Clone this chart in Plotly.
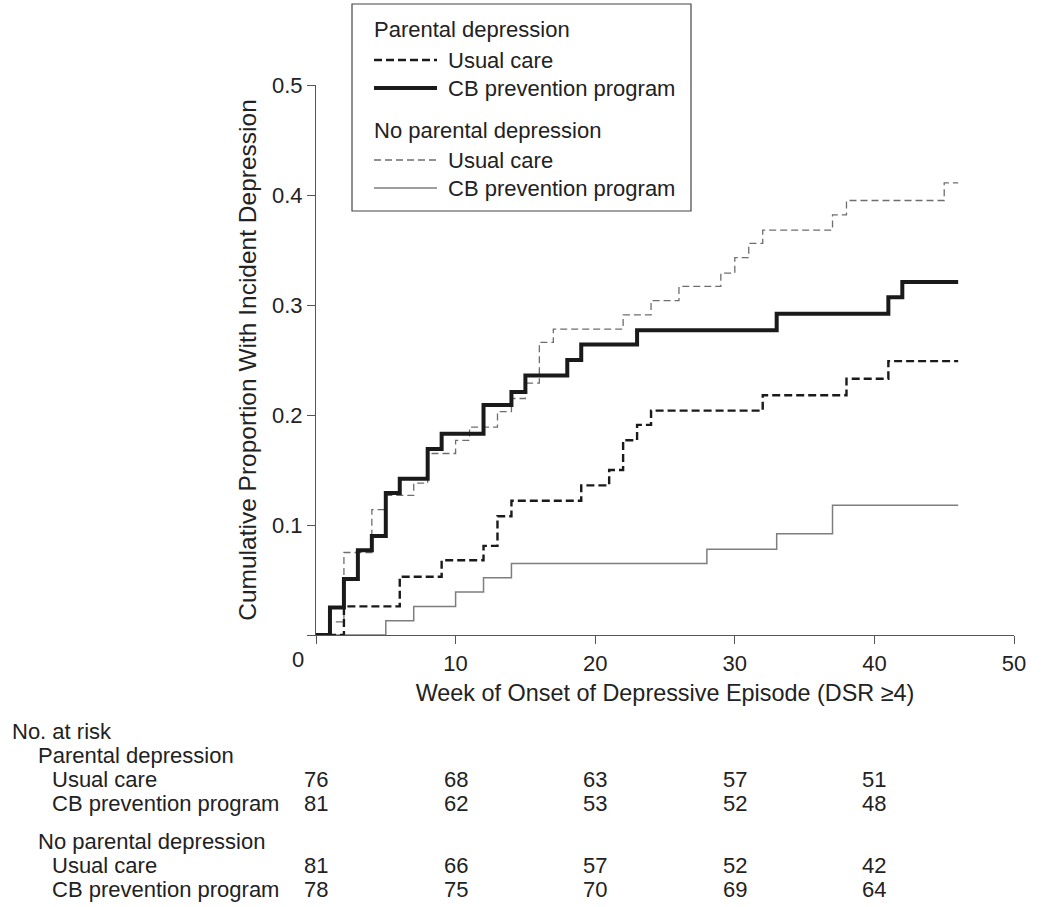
import plotly.graph_objects as go

# Kaplan-Meier style step curves: week of each step and cumulative proportion after it
pd_usual_weeks = [0, 2, 6, 9, 12, 13, 14, 19, 21, 22, 23, 24, 32, 38, 41, 46]
pd_usual_prop = [0, 0.026, 0.053, 0.068, 0.081, 0.108, 0.122, 0.136, 0.150, 0.177,
                 0.191, 0.204, 0.218, 0.233, 0.249, 0.249]

pd_cb_weeks = [0, 1, 2, 3, 4, 5, 6, 8, 9, 12, 14, 15, 18, 19, 23, 33, 41, 42, 46]
pd_cb_prop = [0, 0.025, 0.051, 0.077, 0.090, 0.129, 0.142, 0.169, 0.183, 0.209,
              0.221, 0.236, 0.250, 0.264, 0.277, 0.292, 0.307, 0.321, 0.321]

npd_usual_weeks = [0, 1, 2, 4, 5, 7, 8, 10, 11, 13, 14, 15, 16, 17, 22, 24, 26,
                   29, 30, 31, 32, 37, 38, 45, 46]
npd_usual_prop = [0, 0.012, 0.075, 0.114, 0.127, 0.138, 0.165, 0.177, 0.189, 0.203,
                  0.215, 0.229, 0.266, 0.278, 0.291, 0.304, 0.317, 0.329, 0.343,
                  0.356, 0.368, 0.382, 0.395, 0.411, 0.411]

npd_cb_weeks = [0, 5, 7, 10, 12, 14, 28, 33, 37, 46]
npd_cb_prop = [0, 0.013, 0.026, 0.039, 0.052, 0.065, 0.078, 0.092, 0.118, 0.118]

# number at risk table
risk_weeks = [0, 10, 20, 30, 40]
risk_pd_usual = [76, 68, 63, 57, 51]
risk_pd_cb = [81, 62, 53, 52, 48]
risk_npd_usual = [81, 66, 57, 52, 42]
risk_npd_cb = [78, 75, 70, 69, 64]

x_ticks = [0, 10, 20, 30, 40, 50]
y_ticks = [0, 0.1, 0.2, 0.3, 0.4, 0.5]

FONT = "Liberation Sans, Arial, sans-serif"
TXT = "#222222"
DARK = "#1a1a1a"

styles = {
    "pd_usual": dict(color=DARK, width=2.4, dash="8px,4px"),
    "pd_cb": dict(color=DARK, width=4),
    "npd_usual": dict(color="#6e6e6e", width=1.3, dash="7px,4px"),
    "npd_cb": dict(color="#7e7e7e", width=1.5),
}

# plot area in pixels (used to place the legend box and table labels in paper coords)
L, R, T, B = 316, 1014, 85, 635


def px(x):
    return (x - L) / (R - L)


def py(y):
    return (B - y) / (B - T)


fig = go.Figure()

series = [
    (npd_cb_weeks, npd_cb_prop, "npd_cb"),
    (npd_usual_weeks, npd_usual_prop, "npd_usual"),
    (pd_usual_weeks, pd_usual_prop, "pd_usual"),
    (pd_cb_weeks, pd_cb_prop, "pd_cb"),
]
for wk, prop, key in series:
    fig.add_trace(go.Scatter(x=wk, y=prop, mode="lines", line_shape="hv",
                             line=styles[key], showlegend=False, hoverinfo="x+y"))

# legend drawn by hand so the key lines match the long samples of the original
shapes = [dict(type="rect", xref="paper", yref="paper",
               x0=px(352), x1=px(691), y0=py(211), y1=py(4),
               line=dict(color="#444444", width=1.2), fillcolor="white", layer="above")]
annotations = []
legend_rows = [
    (30, "Parental depression", None),
    (60, "Usual care", "pd_usual"),
    (88, "CB prevention program", "pd_cb"),
    (130, "No parental depression", None),
    (160, "Usual care", "npd_usual"),
    (188, "CB prevention program", "npd_cb"),
]
for y, label, key in legend_rows:
    if key is None:
        annotations.append(dict(xref="paper", yref="paper", x=px(372), y=py(y),
                                text=label, showarrow=False, xanchor="left",
                                yanchor="middle"))
    else:
        shapes.append(dict(type="line", xref="paper", yref="paper",
                           x0=px(374), x1=px(437), y0=py(y), y1=py(y),
                           line=styles[key], layer="above"))
        annotations.append(dict(xref="paper", yref="paper", x=px(446), y=py(y),
                                text=label, showarrow=False, xanchor="left",
                                yanchor="middle"))

# "0" on the x axis sits a little left of its tick in the original
annotations.append(dict(xref="x", yref="paper", x=0, y=py(659), text="0",
                        showarrow=False, xshift=-18, yanchor="middle"))

# number-at-risk table
table_labels = [
    (10, 731, "No. at risk"),
    (36, 755, "Parental depression"),
    (50, 779, "Usual care"),
    (50, 803, "CB prevention program"),
    (36, 841, "No parental depression"),
    (50, 865, "Usual care"),
    (50, 889, "CB prevention program"),
]
for x, y, label in table_labels:
    annotations.append(dict(xref="paper", yref="paper", x=px(x), y=py(y), text=label,
                            showarrow=False, xanchor="left", yanchor="middle"))

for y, counts in [(779, risk_pd_usual), (803, risk_pd_cb),
                  (865, risk_npd_usual), (889, risk_npd_cb)]:
    for wk, n in zip(risk_weeks, counts):
        annotations.append(dict(xref="x", yref="paper", x=wk, y=py(y), text=str(n),
                                showarrow=False, xanchor="center", yanchor="middle"))

fig.update_layout(
    width=1050, height=907,
    margin=dict(l=L, r=1050 - R, t=T, b=907 - B, autoexpand=False),
    paper_bgcolor="white", plot_bgcolor="white",
    font=dict(family=FONT, size=22, color=TXT),
    shapes=shapes,
    annotations=annotations,
    xaxis=dict(range=[0, 50], tickvals=x_ticks,
               ticktext=[""] + [str(t) for t in x_ticks[1:]],
               showline=True, linecolor="#555555", linewidth=1.2,
               ticks="outside", ticklen=8, tickcolor="#555555", tickwidth=1.2,
               showgrid=False, zeroline=False,
               title=dict(text="Week of Onset of Depressive Episode (DSR ≥4)",
                          font=dict(family=FONT, size=23.4, color=TXT), standoff=10)),
    yaxis=dict(range=[0, 0.5], tickvals=y_ticks,
               ticktext=[""] + ["%.1f" % t for t in y_ticks[1:]],
               showline=True, linecolor="#555555", linewidth=1.2,
               ticks="outside", ticklen=8, tickcolor="#555555", tickwidth=1.2,
               showgrid=False, zeroline=False,
               title=dict(text="Cumulative Proportion With Incident Depression",
                          font=dict(family=FONT, size=24.5, color=TXT), standoff=8)),
    showlegend=False,
)

fig.write_html("out.html", config={"displayModeBar": False},
               post_script="document.body.style.margin='0';")
